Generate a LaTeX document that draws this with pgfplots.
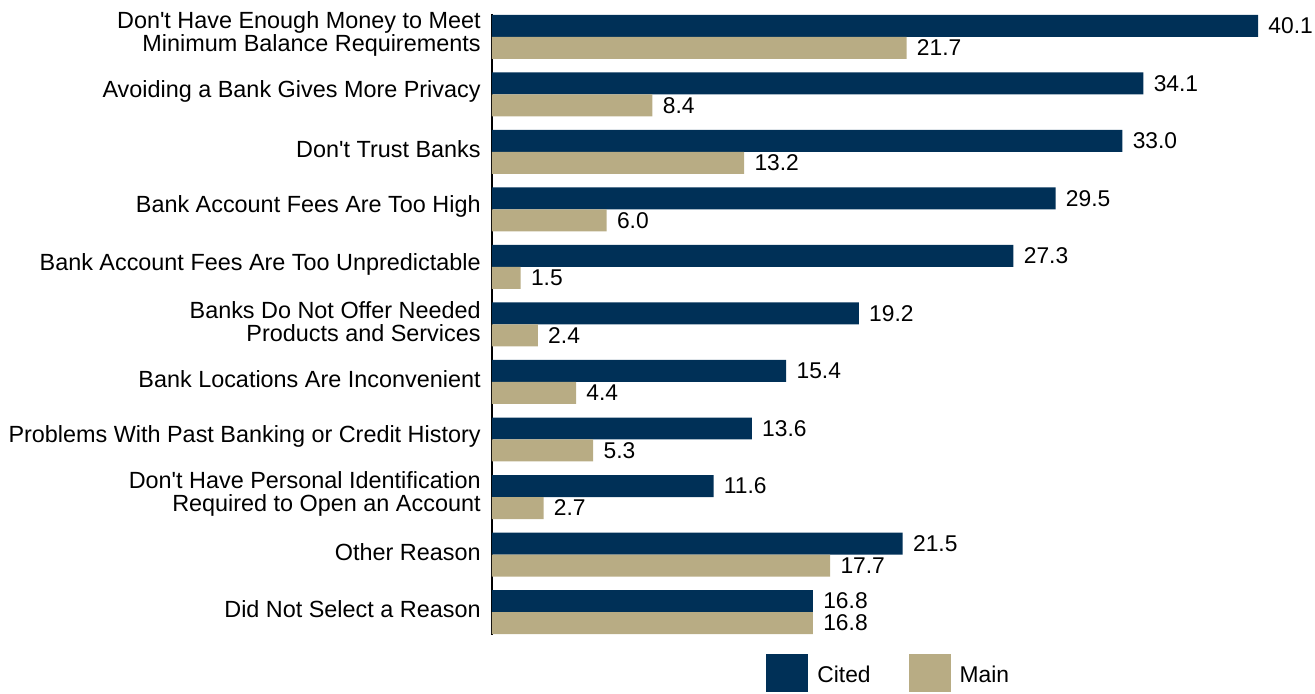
\documentclass[border=0pt]{standalone}
\usepackage{pgfplots}
\pgfplotsset{compat=1.18}
\usepackage{fontspec}
\setmainfont{Liberation Sans}
\definecolor{citedNavy}{HTML}{003057}
\definecolor{mainTan}{HTML}{B8AC84}
\newcommand{\q}{\textquotesingle}
\begin{document}
\begin{tikzpicture}
\useasboundingbox (-246pt,-29.5pt) rectangle (411.5pt,317.5pt);
\begin{axis}[
  at={(0,0)}, anchor=south west,
  scale only axis, width=383pt, height=310.5pt,
  xbar, xmin=0, xmax=40.1, ymin=-0.4, ymax=10.4, y dir=reverse,
  axis x line=none, axis y line*=left,
  y axis line style={line width=1.2pt, -},
  ytick={0,...,10},
  yticklabels={
    {Don\q t Have Enough Money to Meet\\Minimum Balance Requirements},
    {Avoiding a Bank Gives More Privacy},
    {Don\q t Trust Banks},
    {Bank Account Fees Are Too High},
    {Bank Account Fees Are Too Unpredictable},
    {Banks Do Not Offer Needed\\Products and Services},
    {Bank Locations Are Inconvenient},
    {Problems With Past Banking or Credit History},
    {Don\q t Have Personal Identification\\Required to Open an Account},
    {Other Reason},
    {Did Not Select a Reason}},
  major tick length=0pt,
  yticklabel style={align=right, font=\fontsize{11.7}{11.5}\selectfont, inner sep=0pt, xshift=-5.5pt, yshift=1.3pt},
  bar width=0.3826,
  point meta=x,
  nodes near coords={\pgfmathprintnumber[fixed,fixed zerofill,precision=1,assume math mode=true]{\pgfplotspointmeta}},
  nodes near coords style={font=\fontsize{11.4}{13}\selectfont, anchor=west, inner sep=0pt, xshift=5pt},
  clip=false,
  legend columns=2,
  legend image code/.code={\fill[#1] (0pt,-9.5pt) rectangle (21pt,9.5pt); \path (23.5pt,0pt);},
  legend style={draw=none, at={(0.3577,-0.0306)}, anchor=north west, inner sep=0pt,
    font=\fontsize{11.4}{13}\selectfont, nodes={yshift=-1pt},
    /tikz/every even column/.append style={column sep=17pt}},
]
\addplot[fill=citedNavy, draw=none, bar shift=-0.1913] coordinates {
(40.1,0) (34.1,1) (33.0,2) (29.5,3) (27.3,4) (19.2,5) (15.4,6) (13.6,7) (11.6,8) (21.5,9) (16.8,10)};
\addplot[fill=mainTan, draw=none, bar shift=0.1913] coordinates {
(21.7,0) (8.4,1) (13.2,2) (6.0,3) (1.5,4) (2.4,5) (4.4,6) (5.3,7) (2.7,8) (17.7,9) (16.8,10)};
\legend{Cited, Main}
\end{axis}
\end{tikzpicture}
\end{document}
